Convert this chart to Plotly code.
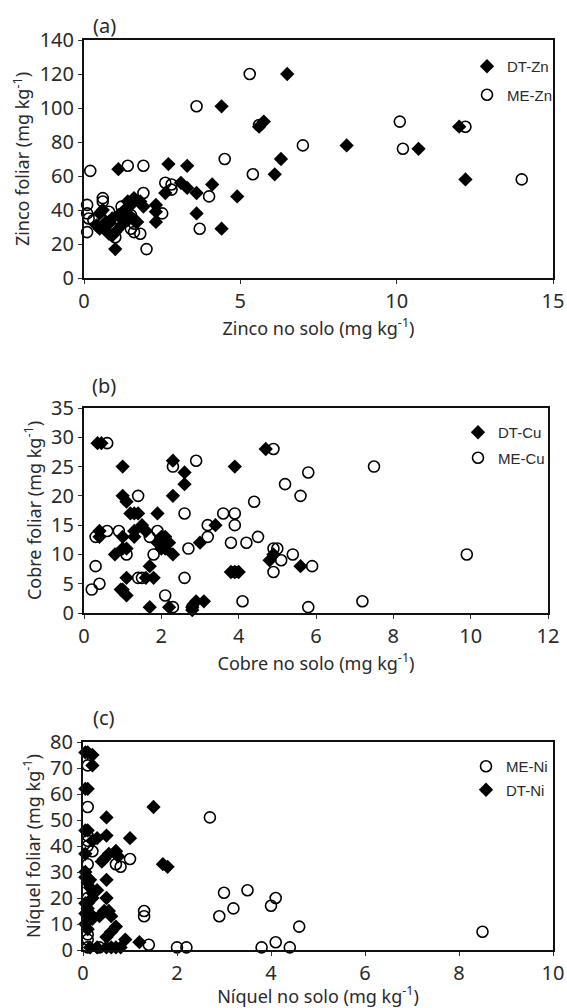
import plotly.graph_objects as go

# ---------------- Panel (a): Zinc ----------------
zn_dt_x = [1.1, 2.7, 3.3, 4.4, 6.5, 5.6, 5.75, 6.1, 6.3, 8.4, 10.7, 12.0, 12.2, 3.1, 3.3, 3.6, 4.1, 4.9, 3.6, 4.4,
           2.6, 2.3, 2.3, 2.3, 1.9, 1.0, 1.4, 1.6, 1.8, 1.5, 0.5, 0.6, 0.4, 0.5, 0.7, 0.8, 0.9, 1.0, 1.15, 1.3,
           1.4, 1.6, 1.7, 1.2, 0.7, 0.9, 1.1, 1.3, 1.5, 0.6, 0.8]
zn_dt_y = [64, 67, 66, 101, 120, 89, 92, 61, 70, 78, 76, 89, 58, 56, 53, 50, 55, 48, 38, 29,
           50, 43, 39, 33, 42, 17, 45, 47, 45, 43, 38, 40, 31, 29, 28, 26, 25, 27, 36, 38,
           34, 34, 33, 31, 33, 35, 37, 40, 36, 30, 32]
zn_me_x = [0.2, 1.4, 1.9, 3.6, 5.3, 4.5, 5.4, 7.0, 10.1, 12.2, 10.2, 14.0, 5.6, 2.6, 2.8, 2.8, 1.9, 4.0, 3.7,
           2.5, 2.0, 1.8, 1.6, 1.5, 0.1, 0.1, 0.15, 0.1, 0.6, 0.6, 0.8, 1.0, 1.2, 1.3, 1.5, 1.6, 0.9, 0.3]
zn_me_y = [63, 66, 66, 101, 120, 70, 61, 78, 92, 89, 76, 58, 90, 56, 55, 52, 50, 48, 29,
           38, 17, 26, 27, 29, 43, 38, 35, 27, 47, 45, 39, 24, 42, 39, 37, 32, 30, 34]

# ---------------- Panel (b): Copper ----------------
cu_dt_x = [0.35, 0.45, 1.0, 1.0, 1.1, 1.2, 1.3, 1.4, 1.9, 2.3, 2.6, 2.6, 2.3, 3.9, 4.7, 0.4, 0.4, 1.0, 0.8, 1.0,
           1.1, 1.3, 1.3, 1.5, 1.6, 1.9, 2.0, 2.1, 2.2, 2.1, 2.0, 2.3, 3.0, 3.4, 3.8, 3.9, 4.0, 1.7, 1.6, 1.8,
           1.1, 1.0, 1.1, 0.95, 1.7, 2.2, 2.8, 2.8, 2.9, 3.1, 4.8, 4.9, 5.6]
cu_dt_y = [29, 29, 25, 20, 19, 17, 17, 17, 17, 26, 24, 22, 20, 25, 28, 14, 13, 13, 10, 11,
           11, 14, 13, 15, 14, 12, 11, 13, 12, 11, 13, 10, 12, 15, 7, 7, 7, 8, 6, 6,
           6, 4, 3, 4, 1, 1, 1, 0.5, 2, 2, 9, 10, 8]
cu_me_x = [0.6, 1.4, 2.3, 2.9, 2.6, 3.6, 3.9, 4.9, 4.4, 5.2, 5.6, 5.8, 7.5, 0.3, 0.6, 0.9, 1.1, 1.7, 1.9, 1.8,
           2.0, 2.7, 3.2, 3.2, 3.9, 3.8, 4.2, 4.5, 2.6, 1.4, 1.5, 0.3, 0.2, 0.4, 2.1, 2.3, 2.8, 4.1, 4.9, 5.0,
           4.9, 5.1, 5.4, 5.9, 5.8, 7.2, 9.9, 3.9]
cu_me_y = [29, 20, 25, 26, 17, 17, 17, 28, 19, 22, 20, 24, 25, 13, 14, 14, 10, 13, 14, 10,
           12, 11, 13, 15, 15, 12, 12, 13, 6, 6, 6, 8, 4, 5, 3, 1, 1, 2, 11, 11,
           7, 9, 10, 8, 1, 2, 10, 7]

# ---------------- Panel (c): Nickel ----------------
ni_me_x = [0.1, 0.1, 2.7, 0.1, 0.1, 0.2, 0.7, 0.8, 1.0, 0.1, 0.1, 0.1, 0.1, 0.35, 1.3, 1.3, 1.4, 2.0, 2.2,
           2.9, 3.0, 3.2, 3.5, 3.8, 4.0, 4.1, 4.1, 4.4, 4.6, 8.5, 0.1, 0.1, 0.1]
ni_me_y = [71, 55, 51, 44, 42, 38, 33, 32, 35, 33, 6, 4, 1, 1, 15, 13, 2, 1, 1,
           13, 22, 16, 23, 1, 17, 20, 3, 1, 9, 7, 20, 27, 40]
ni_dt_x = [0.05, 0.1, 0.2, 0.2, 0.05, 0.1, 1.5, 0.5, 0.05, 0.1, 0.3, 0.5, 1.0, 0.7, 0.2, 0.05, 0.45, 0.55,
           0.7, 0.75, 0.4, 1.7, 1.8, 0.5, 0.5, 0.3, 0.45, 0.55, 0.6, 0.35, 0.7, 0.6, 0.5, 0.9, 1.2, 0.15,
           0.3, 0.5, 0.6, 0.7, 0.8, 0.05, 0.1, 0.15, 0.2, 0.05, 0.1, 0.15, 0.2, 0.05, 0.1, 0.2, 0.05,
           0.15, 0.1, 0.05]
ni_dt_y = [76, 76, 75, 71, 62, 62, 55, 51, 46, 46, 43, 44, 43, 38, 42, 37, 35, 37,
           38, 36, 34, 33, 32, 27, 20, 23, 15, 15, 13, 13, 9, 7, 5, 4, 3, 1,
           1, 1, 1, 1, 1, 28, 26, 24, 22, 18, 16, 14, 12, 10, 8, 20, 30,
           27, 18, 14]

FONT = "Noto Sans"
TXT = "#2a2a2a"

W, H = 567, 1008


def px2x(p):
    return p / W


def px2y(p):
    return 1 - p / H


dt_marker = dict(symbol="diamond", size=11, color="black", line=dict(width=0))
me_marker = dict(symbol="circle-open", size=11, color="black", line=dict(width=1.6))

fig = go.Figure()

series = [
    (zn_dt_x, zn_dt_y, "DT-Zn", dt_marker, "x", "y", "legend"),
    (zn_me_x, zn_me_y, "ME-Zn", me_marker, "x", "y", "legend"),
    (cu_dt_x, cu_dt_y, "DT-Cu", dt_marker, "x2", "y2", "legend2"),
    (cu_me_x, cu_me_y, "ME-Cu", me_marker, "x2", "y2", "legend2"),
    (ni_me_x, ni_me_y, "ME-Ni", me_marker, "x3", "y3", "legend3"),
    (ni_dt_x, ni_dt_y, "DT-Ni", dt_marker, "x3", "y3", "legend3"),
]
for xs, ys, name, mk, xa, ya, lg in series:
    fig.add_trace(go.Scatter(x=xs, y=ys, mode="markers", name=name, marker=mk, legendgroup=name,
                             xaxis=xa, yaxis=ya, legend=lg, cliponaxis=False))

common = dict(showline=True, linecolor="#111", linewidth=2, mirror=True, showgrid=False, zeroline=False,
              ticks="outside", ticklen=4, tickwidth=1, tickcolor="#333", automargin=False,
              tickfont=dict(family=FONT, size=20, color=TXT))
title_font = dict(family=FONT, size=18, color=TXT)

sup = "<sup>-1</sup>"

fig.update_layout(
    width=W, height=H, margin=dict(l=0, r=0, t=0, b=0, autoexpand=False),
    paper_bgcolor="white", plot_bgcolor="white",
    showlegend=True,
    xaxis=dict(domain=[px2x(84), px2x(553)], range=[0, 15], dtick=5, anchor="y",
               title=dict(text="Zinco no solo (mg kg" + sup + ")", font=title_font, standoff=4), **common),
    yaxis=dict(domain=[px2y(278), px2y(40)], range=[0, 140], dtick=20, anchor="x",
               title=dict(text="Zinco foliar (mg kg" + sup + ")", font=title_font, standoff=5), **common),
    xaxis2=dict(domain=[px2x(84), px2x(548)], range=[0, 12], dtick=2, anchor="y2",
                title=dict(text="Cobre no solo (mg kg" + sup + ")", font=title_font, standoff=5), **common),
    yaxis2=dict(domain=[px2y(613), px2y(408)], range=[0, 35], dtick=5, anchor="x2",
                title=dict(text="Cobre foliar (mg kg" + sup + ")", font=title_font, standoff=5), **common),
    xaxis3=dict(domain=[px2x(83), px2x(553)], range=[0, 10], dtick=2, anchor="y3",
                title=dict(text="Níquel no solo (mg kg" + sup + ")", font=title_font, standoff=5), **common),
    yaxis3=dict(domain=[px2y(950), px2y(742)], range=[0, 80], dtick=10, anchor="x3",
                title=dict(text="Níquel foliar (mg kg" + sup + ")", font=title_font, standoff=5), **common),
)

leg_common = dict(font=dict(family="Liberation Sans", size=15, color=TXT), bgcolor="rgba(0,0,0,0)",
                  xanchor="left", yanchor="top", itemwidth=30)
fig.update_layout(
    legend=dict(x=px2x(467), y=px2y(50), tracegroupgap=6, **leg_common),
    legend2=dict(x=px2x(458), y=px2y(416), tracegroupgap=3, **leg_common),
    legend3=dict(x=px2x(466), y=px2y(750), tracegroupgap=1, **leg_common),
)

for lbl, ypx in [("(a)", 25), ("(b)", 385), ("(c)", 717)]:
    fig.add_annotation(text=lbl, xref="paper", yref="paper", x=px2x(104), y=px2y(ypx),
                       showarrow=False, font=dict(family=FONT, size=20, color=TXT),
                       xanchor="center", yanchor="middle")

fig.write_html("out.html", config={"displayModeBar": False},
               post_script="document.body.style.margin='0';document.body.style.overflow='hidden';")
